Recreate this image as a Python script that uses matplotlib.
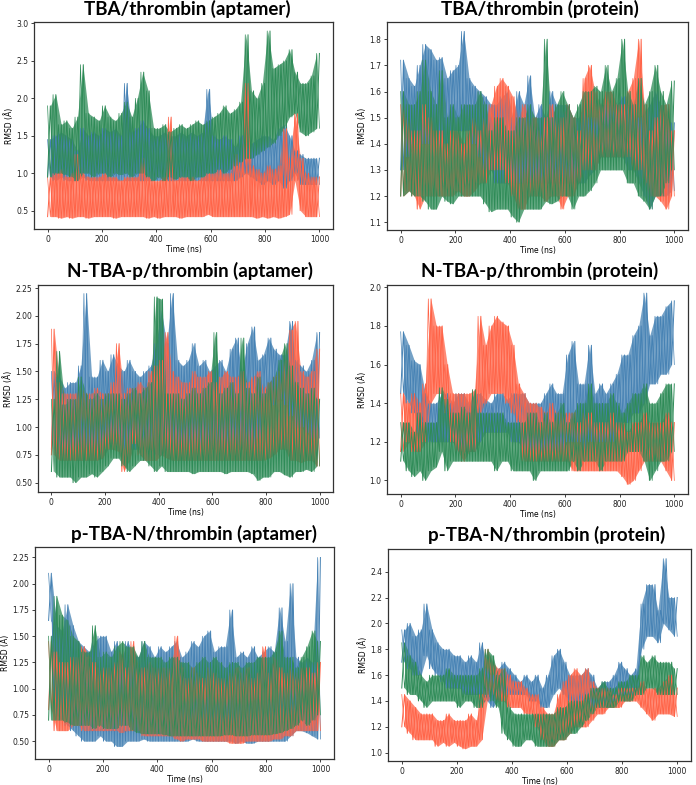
import numpy as np
import matplotlib
matplotlib.use("Agg")
import matplotlib.pyplot as plt
from matplotlib.ticker import MultipleLocator, FormatStrFormatter

# colours of the three replicas
c_blue = "#4682B4"
c_red = "#FF6347"
c_green = "#2E8B57"

# RMSD envelopes read per 20 ns window (lo / hi), 0..1000 ns
# --- TBA/thrombin (aptamer)
p1_blue_lo = [0.95, 0.9, 0.95, 0.9, 0.9, 0.9, 0.95, 0.9, 0.9, 0.9,
              0.9, 0.9, 0.9, 0.9, 0.9, 0.9, 0.9, 0.9, 0.9, 0.9,
              0.9, 0.9, 0.9, 0.9, 0.9, 0.9, 0.9, 0.9, 0.9, 0.9,
              0.9, 0.9, 0.9, 0.9, 0.9, 0.95, 1.0, 0.95, 0.9, 0.85,
              0.9, 0.85, 0.9, 0.8, 0.9, 1.0, 0.85, 0.85, 0.85, 0.85]
p1_blue_hi = [1.45, 1.5, 1.55, 1.5, 1.45, 1.3, 1.6, 1.5, 1.55, 1.5,
              1.6, 1.55, 1.6, 1.5, 2.2, 1.55, 1.6, 1.7, 1.6, 1.5,
              1.5, 1.55, 1.5, 1.5, 1.55, 1.5, 1.55, 1.5, 1.55, 2.12,
              1.5, 1.45, 1.5, 1.45, 1.35, 1.5, 1.4, 1.4, 1.45, 1.5,
              1.5, 1.45, 1.6, 1.65, 1.5, 1.3, 1.25, 1.2, 1.2, 1.2]
p1_red_lo = [0.42, 0.42, 0.4, 0.42, 0.4, 0.42, 0.42, 0.4, 0.42, 0.42,
             0.42, 0.42, 0.4, 0.42, 0.42, 0.42, 0.42, 0.42, 0.4, 0.42,
             0.4, 0.42, 0.42, 0.42, 0.4, 0.42, 0.42, 0.42, 0.42, 0.45,
             0.42, 0.42, 0.42, 0.42, 0.42, 0.42, 0.42, 0.42, 0.4, 0.42,
             0.4, 0.42, 0.4, 0.42, 0.45, 0.9, 0.5, 0.42, 0.42, 0.42]
p1_red_hi = [0.95, 1.0, 1.05, 0.95, 1.0, 1.25, 1.0, 0.95, 0.95, 0.95,
             1.0, 0.95, 0.95, 0.9, 0.95, 0.95, 0.95, 1.2, 0.95, 0.9,
             0.9, 0.95, 1.75, 0.9, 0.95, 0.95, 0.95, 0.9, 0.95, 1.0,
             1.0, 1.05, 1.0, 1.0, 1.25, 1.15, 2.2, 1.1, 1.05, 1.0,
             1.1, 1.05, 1.1, 1.6, 1.2, 1.8, 1.2, 1.0, 0.95, 0.95]
p1_green_lo = [0.95, 1.0, 1.0, 0.98, 0.95, 0.9, 1.0, 1.0, 0.95, 1.0,
               1.0, 0.95, 1.0, 0.98, 1.0, 0.95, 1.0, 1.0, 0.95, 0.9,
               0.95, 0.9, 0.95, 0.92, 0.95, 0.95, 0.9, 0.95, 0.95, 1.0,
               1.0, 1.05, 1.0, 1.05, 1.1, 1.15, 1.2, 1.2, 1.25, 1.3,
               1.35, 1.4, 1.5, 1.6, 1.75, 1.8, 1.55, 1.5, 1.55, 1.6]
p1_green_hi = [1.9, 2.05, 1.65, 1.7, 1.6, 1.75, 2.45, 1.8, 1.75, 1.7,
               1.9, 1.75, 1.7, 1.8, 1.95, 1.75, 2.0, 2.35, 2.1, 1.6,
               1.6, 1.65, 1.55, 1.6, 1.65, 1.6, 1.65, 1.7, 1.65, 1.7,
               1.75, 1.8, 1.9, 1.8, 1.85, 1.95, 2.85, 2.1, 2.0, 2.2,
               2.9, 2.4, 2.45, 2.5, 2.65, 2.35, 2.2, 2.2, 2.3, 2.6]

# --- TBA/thrombin (protein)
p2_blue_lo = [1.3, 1.35, 1.4, 1.4, 1.4, 1.4, 1.45, 1.4, 1.4, 1.45,
              1.45, 1.45, 1.45, 1.4, 1.35, 1.3, 1.3, 1.25, 1.25, 1.25,
              1.25, 1.25, 1.25, 1.25, 1.25, 1.25, 1.25, 1.25, 1.25, 1.25,
              1.25, 1.25, 1.25, 1.25, 1.28, 1.3, 1.35, 1.35, 1.35, 1.35,
              1.35, 1.3, 1.3, 1.25, 1.2, 1.15, 1.2, 1.2, 1.2, 1.22]
p2_blue_hi = [1.72, 1.65, 1.62, 1.7, 1.78, 1.76, 1.72, 1.73, 1.65, 1.68,
              1.7, 1.83, 1.65, 1.62, 1.6, 1.58, 1.55, 1.55, 1.58, 1.6,
              1.5, 1.6, 1.55, 1.66, 1.5, 1.55, 1.5, 1.6, 1.55, 1.55,
              1.55, 1.5, 1.5, 1.55, 1.5, 1.5, 1.55, 1.55, 1.55, 1.55,
              1.58, 1.55, 1.55, 1.5, 1.52, 1.55, 1.6, 1.55, 1.5, 1.48]
p2_red_lo = [1.2, 1.22, 1.2, 1.15, 1.2, 1.2, 1.2, 1.2, 1.2, 1.2,
             1.22, 1.2, 1.2, 1.22, 1.25, 1.25, 1.3, 1.3, 1.3, 1.25,
             1.2, 1.15, 1.15, 1.2, 1.2, 1.2, 1.18, 1.2, 1.2, 1.15,
             1.2, 1.2, 1.25, 1.3, 1.3, 1.3, 1.35, 1.35, 1.35, 1.35,
             1.35, 1.35, 1.3, 1.3, 1.25, 1.2, 1.2, 1.18, 1.15, 1.2]
p2_red_hi = [1.55, 1.5, 1.45, 1.45, 1.55, 1.5, 1.45, 1.45, 1.4, 1.45,
             1.45, 1.4, 1.45, 1.5, 1.45, 1.5, 1.55, 1.62, 1.65, 1.62,
             1.58, 1.5, 1.55, 1.5, 1.5, 1.45, 1.5, 1.55, 1.5, 1.5,
             1.55, 1.5, 1.45, 1.65, 1.7, 1.6, 1.55, 1.6, 1.6, 1.55,
             1.55, 1.6, 1.65, 1.8, 1.55, 1.45, 1.5, 1.55, 1.55, 1.45]
p2_green_lo = [1.2, 1.22, 1.2, 1.2, 1.18, 1.15, 1.15, 1.2, 1.18, 1.17,
               1.2, 1.2, 1.2, 1.2, 1.2, 1.17, 1.14, 1.15, 1.15, 1.15,
               1.12, 1.1, 1.15, 1.15, 1.15, 1.15, 1.18, 1.17, 1.18, 1.2,
               1.2, 1.15, 1.2, 1.2, 1.22, 1.25, 1.3, 1.3, 1.3, 1.3,
               1.3, 1.25, 1.25, 1.2, 1.18, 1.15, 1.2, 1.2, 1.25, 1.3]
p2_green_hi = [1.6, 1.55, 1.55, 1.6, 1.72, 1.6, 1.55, 1.68, 1.5, 1.55,
               1.5, 1.55, 1.55, 1.55, 1.6, 1.55, 1.45, 1.5, 1.5, 1.45,
               1.45, 1.5, 1.5, 1.55, 1.5, 1.5, 1.8, 1.5, 1.55, 1.6,
               1.55, 1.5, 1.55, 1.6, 1.6, 1.62, 1.6, 1.7, 1.6, 1.65,
               1.8, 1.6, 1.55, 1.65, 1.55, 1.6, 1.7, 1.6, 1.55, 1.64]

# --- N-TBA-p/thrombin (aptamer)
p3_blue_lo = [0.8, 0.75, 0.75, 0.75, 0.8, 0.8, 0.8, 0.8, 0.8, 0.8,
              0.85, 0.85, 0.85, 0.8, 0.8, 0.8, 0.8, 0.8, 0.8, 0.75,
              0.75, 0.8, 0.8, 0.8, 0.8, 0.8, 0.8, 0.8, 0.8, 0.8,
              0.8, 0.8, 0.8, 0.8, 0.8, 0.8, 0.8, 0.8, 0.9, 1.2,
              1.25, 1.2, 1.25, 1.2, 1.1, 1.0, 1.0, 0.95, 0.9, 0.9]
p3_blue_hi = [1.5, 1.45, 1.35, 1.4, 1.4, 1.55, 2.2, 1.45, 1.45, 1.6,
              1.5, 1.65, 1.55, 1.5, 1.6, 1.5, 1.45, 1.5, 1.55, 1.75,
              2.05, 1.75, 2.2, 1.6, 1.55, 1.6, 1.75, 1.55, 1.6, 1.5,
              1.55, 1.6, 1.5, 1.7, 1.8, 1.5, 1.75, 1.9, 1.6, 1.65,
              1.8, 1.7, 1.65, 1.65, 1.95, 1.6, 1.55, 1.5, 1.6, 1.85]
p3_red_lo = [0.75, 0.7, 0.7, 0.7, 0.7, 0.7, 0.7, 0.7, 0.7, 0.72,
             0.8, 0.8, 0.78, 0.6, 0.7, 0.85, 0.75, 0.7, 0.7, 0.7,
             0.75, 0.72, 0.7, 0.7, 0.7, 0.7, 0.7, 0.7, 0.7, 0.7,
             0.7, 0.7, 0.7, 0.7, 0.7, 0.7, 0.7, 0.7, 0.7, 0.7,
             0.72, 0.75, 0.8, 0.8, 0.7, 0.7, 0.68, 0.7, 0.7, 0.65]
p3_red_hi = [1.88, 1.4, 1.3, 1.3, 1.3, 1.35, 1.3, 1.3, 1.35, 1.3,
             1.3, 1.4, 1.75, 1.3, 1.35, 1.35, 1.4, 1.35, 1.5, 1.55,
             1.6, 1.85, 1.5, 1.45, 1.4, 1.4, 1.5, 1.45, 1.45, 1.5,
             1.4, 1.45, 1.5, 1.45, 1.45, 1.5, 1.4, 1.45, 1.5, 1.35,
             1.4, 1.45, 1.5, 1.6, 1.87, 1.95, 1.5, 1.45, 1.5, 1.7]
p3_green_lo = [0.6, 0.55, 0.55, 0.55, 0.5, 0.55, 0.55, 0.58, 0.55, 0.6,
               0.65, 0.72, 0.72, 0.65, 0.6, 0.65, 0.7, 0.7, 0.65, 0.6,
               0.65, 0.6, 0.6, 0.6, 0.6, 0.6, 0.58, 0.6, 0.6, 0.6,
               0.6, 0.6, 0.58, 0.6, 0.6, 0.6, 0.6, 0.58, 0.52, 0.55,
               0.55, 0.6, 0.6, 0.57, 0.55, 0.6, 0.6, 0.62, 0.6, 0.65]
p3_green_hi = [1.25, 1.68, 1.2, 1.25, 1.25, 1.45, 1.3, 1.25, 1.3, 1.25,
               1.3, 1.3, 1.3, 1.25, 1.3, 1.35, 1.3, 1.35, 1.4, 2.17,
               2.15, 1.3, 1.3, 1.3, 1.25, 1.3, 1.35, 1.3, 1.35, 1.4,
               1.85, 1.3, 1.35, 1.4, 1.3, 1.8, 1.35, 1.3, 1.45, 1.3,
               1.4, 1.45, 1.6, 1.75, 1.55, 1.4, 1.35, 1.3, 1.35, 1.25]

# --- N-TBA-p/thrombin (protein)
p4_blue_lo = [1.45, 1.4, 1.35, 1.25, 1.25, 1.2, 1.2, 1.2, 1.2, 1.2,
              1.15, 1.15, 1.15, 1.15, 1.2, 1.25, 1.25, 1.25, 1.25, 1.25,
              1.2, 1.2, 1.15, 1.15, 1.15, 1.15, 1.15, 1.15, 1.15, 1.15,
              1.2, 1.2, 1.2, 1.15, 1.2, 1.2, 1.2, 1.2, 1.2, 1.25,
              1.3, 1.3, 1.35, 1.35, 1.4, 1.5, 1.5, 1.55, 1.55, 1.6]
p4_blue_hi = [1.77, 1.7, 1.62, 1.6, 1.45, 1.4, 1.4, 1.45, 1.45, 1.4,
              1.45, 1.45, 1.4, 1.45, 1.45, 1.42, 1.4, 1.45, 1.45, 1.42,
              1.45, 1.45, 1.45, 1.4, 1.4, 1.4, 1.45, 1.5, 1.45, 1.45,
              1.65, 1.72, 1.5, 1.5, 1.7, 1.45, 1.5, 1.45, 1.5, 1.55,
              1.65, 1.65, 1.75, 1.8, 1.97, 1.75, 1.85, 1.85, 1.9, 1.93]
p4_red_lo = [1.15, 1.2, 1.15, 1.15, 1.2, 1.4, 1.45, 1.45, 1.35, 1.2,
             1.15, 1.1, 1.15, 1.15, 1.35, 1.4, 1.45, 1.45, 1.45, 1.4,
             1.35, 1.3, 1.1, 1.1, 1.1, 1.1, 1.1, 1.1, 1.1, 1.1,
             1.1, 1.05, 1.05, 1.05, 1.05, 1.05, 1.05, 1.05, 1.05, 1.05,
             1.02, 0.98, 1.0, 1.05, 1.1, 1.1, 1.1, 1.1, 1.05, 1.0]
p4_red_hi = [1.45, 1.4, 1.45, 1.4, 1.5, 1.94, 1.8, 1.8, 1.6, 1.45,
             1.45, 1.45, 1.45, 1.47, 1.85, 1.7, 1.8, 1.85, 1.82, 1.8,
             1.7, 1.5, 1.45, 1.4, 1.4, 1.38, 1.35, 1.4, 1.35, 1.35,
             1.35, 1.35, 1.3, 1.35, 1.35, 1.3, 1.3, 1.3, 1.35, 1.3,
             1.3, 1.25, 1.3, 1.3, 1.35, 1.3, 1.3, 1.3, 1.35, 1.3]
p4_green_lo = [1.1, 1.05, 1.02, 1.05, 1.0, 1.05, 1.07, 1.15, 1.05, 1.1,
               1.1, 1.1, 1.1, 1.1, 1.1, 1.1, 1.1, 1.05, 1.1, 1.1,
               1.05, 1.05, 1.05, 1.05, 1.0, 1.05, 1.05, 1.05, 1.05, 1.05,
               1.05, 1.1, 1.05, 1.1, 1.1, 1.1, 1.05, 1.1, 1.1, 1.1,
               1.1, 1.15, 1.15, 1.15, 1.1, 1.0, 1.05, 1.1, 1.1, 1.15]
p4_green_hi = [1.3, 1.3, 1.25, 1.35, 1.3, 1.3, 1.3, 1.48, 1.42, 1.35,
               1.35, 1.38, 1.35, 1.47, 1.35, 1.35, 1.35, 1.35, 1.35, 1.3,
               1.3, 1.3, 1.3, 1.35, 1.35, 1.3, 1.35, 1.3, 1.35, 1.4,
               1.3, 1.35, 1.4, 1.4, 1.5, 1.4, 1.4, 1.4, 1.45, 1.4,
               1.35, 1.4, 1.45, 1.45, 1.5, 1.4, 1.4, 1.45, 1.5, 1.5]

# --- p-TBA-N/thrombin (aptamer)
p5_blue_lo = [1.65, 0.75, 0.7, 0.65, 0.6, 0.55, 0.5, 0.5, 0.5, 0.55,
              0.5, 0.5, 0.45, 0.45, 0.5, 0.5, 0.5, 0.52, 0.5, 0.5,
              0.5, 0.5, 0.5, 0.5, 0.5, 0.5, 0.52, 0.5, 0.5, 0.5,
              0.5, 0.5, 0.5, 0.5, 0.48, 0.5, 0.48, 0.48, 0.5, 0.5,
              0.5, 0.5, 0.5, 0.5, 0.55, 0.6, 0.6, 0.58, 0.55, 0.52]
p5_blue_hi = [2.1, 1.6, 1.55, 1.8, 1.6, 1.45, 1.4, 1.35, 1.45, 1.5,
              1.5, 1.35, 1.45, 1.3, 1.45, 1.35, 1.3, 1.45, 1.4, 1.3,
              1.4, 1.35, 1.4, 1.45, 1.3, 1.35, 1.45, 1.4, 1.5, 1.55,
              1.35, 1.4, 1.4, 1.75, 1.3, 1.35, 1.3, 1.4, 1.3, 1.35,
              1.4, 1.35, 1.77, 1.45, 2.0, 1.3, 1.25, 1.3, 1.25, 2.25]
p5_red_lo = [0.8, 0.6, 0.6, 0.6, 0.65, 0.65, 0.6, 0.6, 0.6, 0.6,
             0.6, 0.6, 0.6, 0.58, 0.6, 0.6, 0.6, 0.55, 0.55, 0.55,
             0.55, 0.55, 0.55, 0.52, 0.5, 0.52, 0.52, 0.52, 0.5, 0.5,
             0.5, 0.5, 0.5, 0.48, 0.48, 0.48, 0.5, 0.5, 0.5, 0.5,
             0.5, 0.52, 0.52, 0.55, 0.55, 0.6, 0.6, 0.6, 0.6, 0.6]
p5_red_hi = [1.45, 1.35, 1.25, 1.25, 1.3, 1.3, 1.4, 1.3, 1.25, 1.2,
             1.2, 1.2, 1.25, 1.35, 1.2, 1.45, 1.2, 1.2, 1.25, 1.2,
             1.2, 1.2, 1.2, 1.5, 1.2, 1.1, 1.2, 1.15, 1.1, 1.2,
             1.15, 1.1, 1.1, 1.15, 1.2, 1.15, 1.2, 1.1, 1.15, 1.4,
             1.15, 1.3, 1.2, 1.15, 1.2, 1.15, 1.2, 1.2, 1.15, 1.25]
p5_green_lo = [0.7, 0.7, 0.7, 0.68, 0.65, 0.65, 0.65, 0.65, 0.62, 0.65,
               0.62, 0.62, 0.62, 0.65, 0.65, 0.6, 0.58, 0.57, 0.57, 0.57,
               0.57, 0.56, 0.55, 0.55, 0.55, 0.55, 0.55, 0.55, 0.55, 0.55,
               0.55, 0.55, 0.56, 0.56, 0.55, 0.55, 0.55, 0.56, 0.56, 0.56,
               0.56, 0.57, 0.58, 0.6, 0.62, 0.65, 0.7, 0.65, 0.7, 0.75]
p5_green_hi = [1.5, 1.88, 1.7, 1.65, 1.5, 1.45, 1.35, 1.35, 1.6, 1.3,
               1.35, 1.3, 1.4, 1.45, 1.4, 1.4, 1.3, 1.45, 1.3, 1.3,
               1.3, 1.25, 1.3, 1.3, 1.25, 1.25, 1.2, 1.25, 1.3, 1.25,
               1.3, 1.25, 1.2, 1.25, 1.25, 1.2, 1.25, 1.25, 1.3, 1.3,
               1.3, 1.35, 1.55, 1.3, 1.3, 1.2, 1.3, 1.4, 1.55, 1.45]

# --- p-TBA-N/thrombin (protein)
p6_blue_lo = [1.7, 1.65, 1.6, 1.6, 1.75, 1.65, 1.6, 1.55, 1.5, 1.5,
              1.5, 1.45, 1.45, 1.45, 1.45, 1.4, 1.35, 1.4, 1.45, 1.45,
              1.45, 1.45, 1.45, 1.4, 1.4, 1.35, 1.35, 1.45, 1.5, 1.45,
              1.4, 1.35, 1.4, 1.4, 1.35, 1.35, 1.35, 1.35, 1.4, 1.45,
              1.45, 1.45, 1.45, 1.8, 1.9, 1.9, 1.85, 2.0, 1.95, 1.9]
p6_blue_hi = [1.95, 2.0, 1.9, 1.95, 2.15, 1.95, 1.85, 1.8, 1.8, 1.75,
              1.75, 1.7, 1.75, 1.7, 1.85, 1.65, 1.6, 1.65, 1.7, 1.65,
              1.6, 1.55, 1.6, 1.55, 1.6, 1.5, 1.6, 1.75, 1.8, 1.7,
              1.6, 1.6, 1.6, 1.65, 1.6, 1.5, 1.55, 1.55, 1.6, 1.7,
              1.65, 1.6, 1.65, 2.15, 2.3, 2.3, 2.1, 2.5, 2.2, 2.2]
p6_red_lo = [1.2, 1.15, 1.1, 1.1, 1.1, 1.1, 1.05, 1.08, 1.05, 1.08,
             1.05, 1.03, 1.05, 1.05, 1.1, 1.4, 1.45, 1.4, 1.4, 1.35,
             1.35, 1.35, 1.3, 1.3, 1.2, 1.1, 1.05, 1.05, 1.1, 1.1,
             1.15, 1.2, 1.2, 1.2, 1.25, 1.3, 1.3, 1.35, 1.35, 1.35,
             1.4, 1.4, 1.4, 1.35, 1.3, 1.25, 1.3, 1.3, 1.3, 1.28]
p6_red_hi = [1.45, 1.4, 1.35, 1.3, 1.3, 1.3, 1.25, 1.25, 1.3, 1.25,
             1.25, 1.25, 1.3, 1.25, 1.45, 1.8, 1.7, 1.65, 1.65, 1.6,
             1.55, 1.55, 1.5, 1.45, 1.45, 1.35, 1.3, 1.3, 1.45, 1.55,
             1.6, 1.65, 1.6, 1.65, 1.55, 1.5, 1.5, 1.5, 1.45, 1.5,
             1.5, 1.5, 1.5, 1.55, 1.5, 1.5, 1.5, 1.55, 1.6, 1.5]
p6_green_lo = [1.5, 1.45, 1.45, 1.4, 1.35, 1.4, 1.4, 1.4, 1.4, 1.4,
               1.35, 1.4, 1.4, 1.35, 1.35, 1.45, 1.4, 1.35, 1.15, 1.1,
               1.05, 1.05, 1.1, 1.1, 1.05, 1.05, 1.05, 1.05, 1.1, 1.1,
               1.15, 1.15, 1.2, 1.25, 1.3, 1.35, 1.35, 1.35, 1.35, 1.4,
               1.4, 1.4, 1.45, 1.45, 1.5, 1.5, 1.45, 1.45, 1.45, 1.45]
p6_green_hi = [1.85, 1.75, 1.7, 1.6, 1.55, 1.6, 1.6, 1.6, 1.65, 1.6,
               1.6, 1.6, 1.6, 1.6, 1.65, 1.8, 1.75, 1.6, 1.65, 1.35,
               1.3, 1.3, 1.3, 1.3, 1.3, 1.3, 1.3, 1.3, 1.35, 1.35,
               1.4, 1.4, 1.4, 1.45, 1.5, 1.5, 1.55, 1.5, 1.5, 1.55,
               1.55, 1.6, 1.6, 1.75, 1.7, 1.75, 1.7, 1.7, 1.7, 1.65]

titles = ["TBA/thrombin (aptamer)", "TBA/thrombin (protein)",
          "N-TBA-p/thrombin (aptamer)", "N-TBA-p/thrombin (protein)",
          "p-TBA-N/thrombin (aptamer)", "p-TBA-N/thrombin (protein)"]

panels = [
    (p1_blue_lo, p1_blue_hi, p1_red_lo, p1_red_hi, p1_green_lo, p1_green_hi),
    (p2_blue_lo, p2_blue_hi, p2_red_lo, p2_red_hi, p2_green_lo, p2_green_hi),
    (p3_blue_lo, p3_blue_hi, p3_red_lo, p3_red_hi, p3_green_lo, p3_green_hi),
    (p4_blue_lo, p4_blue_hi, p4_red_lo, p4_red_hi, p4_green_lo, p4_green_hi),
    (p5_blue_lo, p5_blue_hi, p5_red_lo, p5_red_hi, p5_green_lo, p5_green_hi),
    (p6_blue_lo, p6_blue_hi, p6_red_lo, p6_red_hi, p6_green_lo, p6_green_hi),
]

# layout in pixels: left, right, top, bottom of each axes; title centre
W, H = 696, 785
boxes = [(34, 333, 22, 229), (387, 688, 22, 230),
         (38, 333, 285, 492), (387, 688, 285, 494),
         (35, 334, 547, 759), (388, 691, 549, 761)]
title_pos = [(187, 9), (540, 9), (190, 271), (540, 271), (194, 534), (547, 535)]
ylims = [(0.255, 3.02), (1.07, 1.866), (0.416, 2.277),
         (0.93, 2.012), (0.33, 2.35), (0.936, 2.575)]
ysteps = [0.5, 0.1, 0.25, 0.2, 0.25, 0.2]
yfmts = ["%.1f", "%.1f", "%.2f", "%.1f", "%.2f", "%.1f"]

t = np.linspace(0, 1000, 100)      # zigzag vertices (lo, hi, lo, hi ...)
t_bin = np.linspace(10, 990, 50)   # window centres for the band


def zigzag(lo, hi):
    y = np.empty(2 * len(lo))
    y[0::2] = lo
    y[1::2] = hi
    return y


def trace(ax, lo, hi, color):
    ax.fill_between(t_bin, lo, hi, color=color, alpha=0.75, lw=0)
    ax.plot(t, zigzag(lo, hi), color=color, lw=0.7)
    ax.plot(t, zigzag(hi, lo), color=color, lw=0.5)


fig = plt.figure(figsize=(W / 100, H / 100), dpi=100)

for k, data in enumerate(panels):
    l, r, tp, b = boxes[k]
    ax = fig.add_axes([l / W, 1 - b / H, (r - l) / W, (b - tp) / H])
    bl, bh, rl, rh, gl, gh = data
    trace(ax, bl, bh, c_blue)
    trace(ax, rl, rh, c_red)
    trace(ax, gl, gh, c_green)
    ax.set_xlim(-50, 1050)
    ax.set_ylim(*ylims[k])
    ax.xaxis.set_major_locator(MultipleLocator(200))
    ax.yaxis.set_major_locator(MultipleLocator(ysteps[k]))
    ax.yaxis.set_major_formatter(FormatStrFormatter(yfmts[k]))
    ax.tick_params(labelsize=5.5, length=2.5, width=0.6, pad=1.5, colors="#222222")
    ax.set_xlabel("Time (ns)", fontsize=5.5, labelpad=1)
    ax.set_ylabel("RMSD (Å)", fontsize=5.5, labelpad=2)
    for s in ax.spines.values():
        s.set_linewidth(0.9)
        s.set_color("#333333")
    tx, ty = title_pos[k]
    fig.text(tx / W, 1 - ty / H, titles[k], ha="center", va="center",
             fontsize=13.5, fontweight="bold", family=["Lato", "DejaVu Sans"])

fig.savefig("out.png", dpi=100)
